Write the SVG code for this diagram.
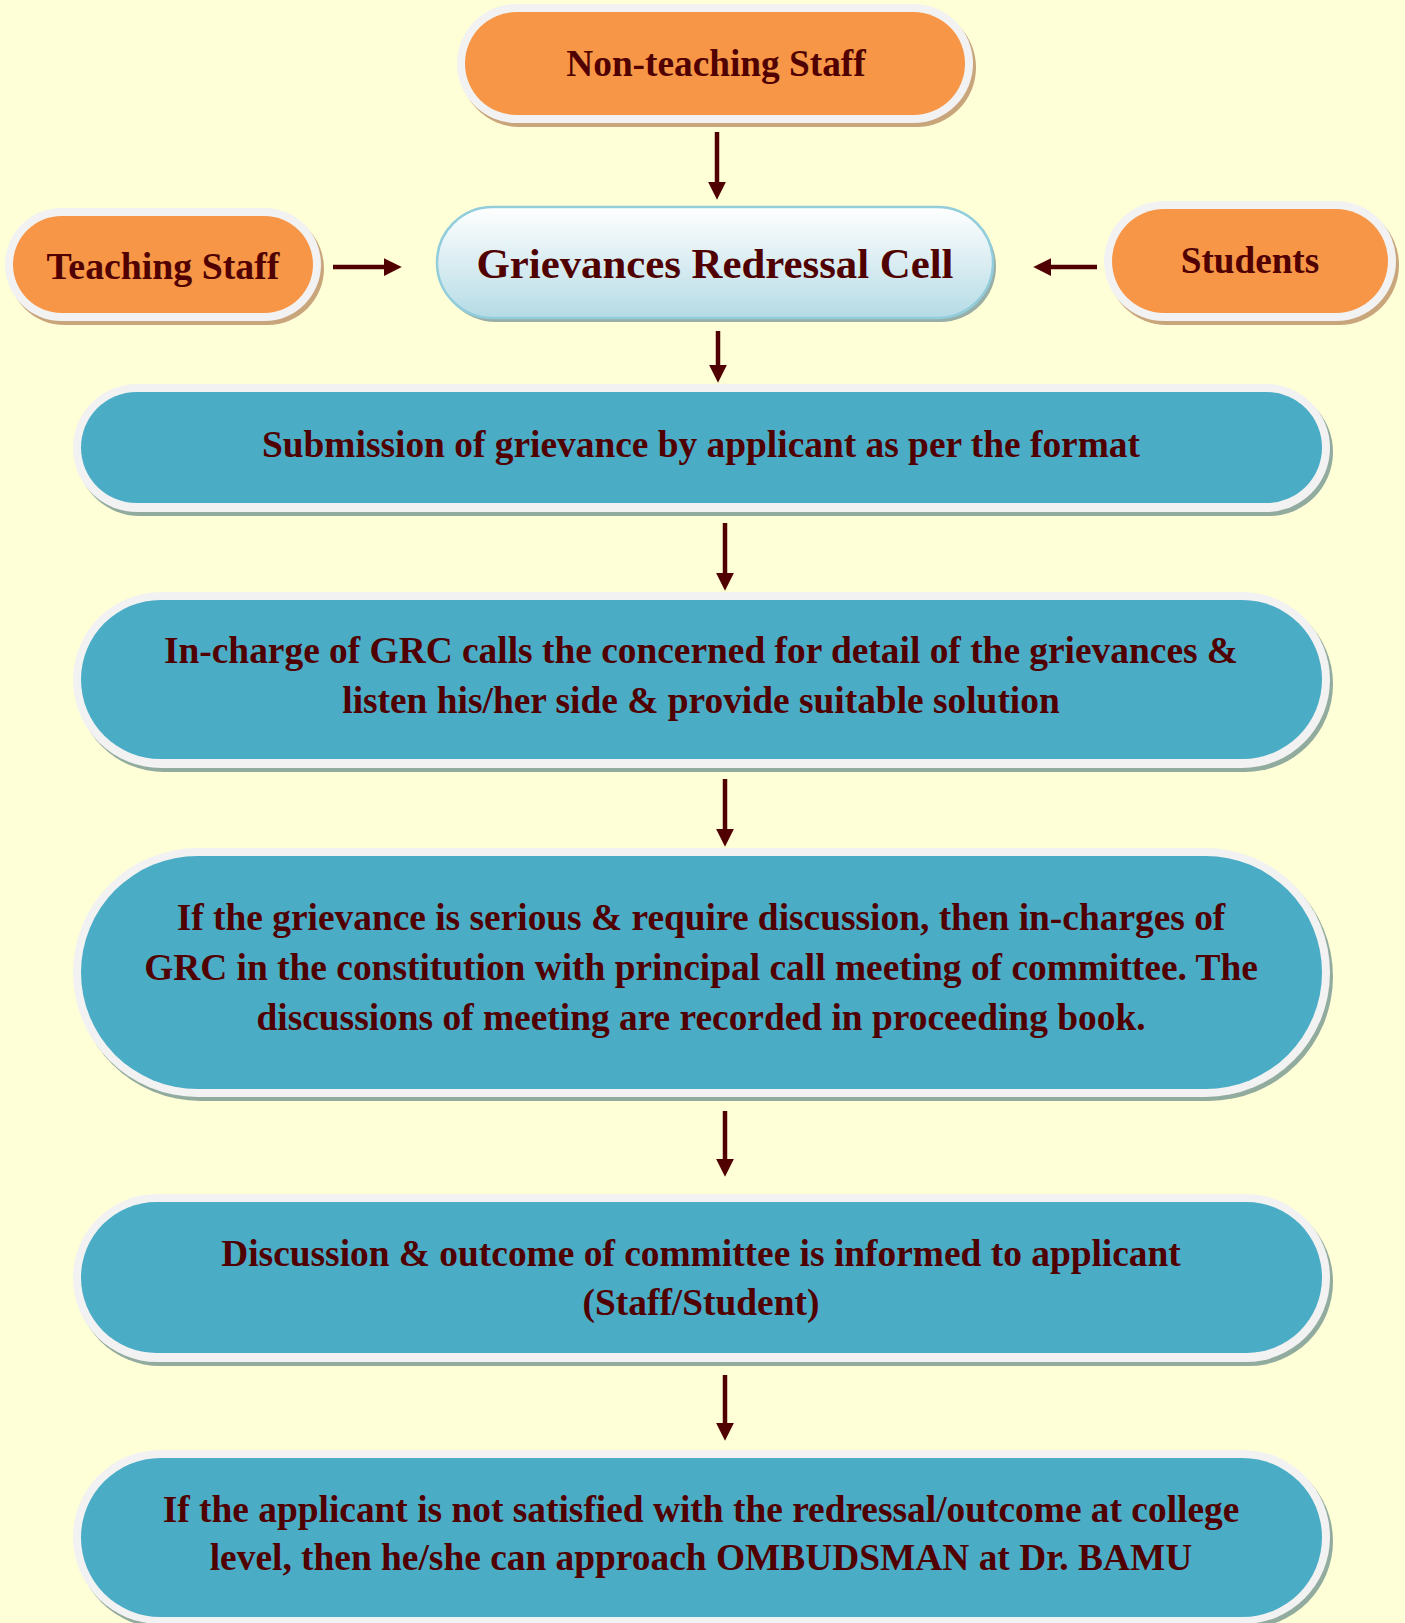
<svg xmlns="http://www.w3.org/2000/svg" width="1405" height="1623" viewBox="0 0 1405 1623">
<style>
.t{font-family:"Liberation Serif","Times New Roman",serif;font-weight:bold;fill:#500000;text-anchor:middle}
.ow{fill:#f2f2f2}
.or{fill:#f79646}
.bl{fill:#4bacc6}
.sho{fill:#c9a57c}
.shb{fill:#92ab9f}
.ln{stroke:#500000;stroke-width:4.5;fill:none}
</style>
<defs>
<linearGradient id="gg" x1="0" y1="0" x2="0" y2="1">
<stop offset="0" stop-color="#ffffff"/>
<stop offset="1" stop-color="#b5dbe5"/>
</linearGradient>
<marker id="ah" markerWidth="4" markerHeight="4" refX="0.5" refY="2" orient="auto" markerUnits="strokeWidth" viewBox="0 0 4 4">
<path d="M0,0 L4,2 L0,4 Z" fill="#500000"/>
</marker>
</defs>
<rect width="1405" height="1623" fill="#ffffd7"/>

<g id="non-teaching">
<rect class="sho" x="460" y="8" width="516" height="119" rx="59.5"/>
<rect class="ow" x="457" y="4" width="516" height="119" rx="59.5"/>
<rect class="or" x="465" y="12" width="500" height="103" rx="51.5"/>
<text class="t" x="716" y="76" font-size="37.3">Non-teaching Staff</text>
</g>

<g id="teaching">
<rect class="sho" x="8" y="212" width="316" height="113" rx="56.5"/>
<rect class="ow" x="5" y="208" width="316" height="113" rx="56.5"/>
<rect class="or" x="13" y="216" width="300" height="97" rx="48.5"/>
<text class="t" x="163" y="279" font-size="37.8">Teaching Staff</text>
</g>

<g id="students">
<rect class="sho" x="1107" y="205" width="292" height="120" rx="60"/>
<rect class="ow" x="1104" y="201" width="292" height="120" rx="60"/>
<rect class="or" x="1112" y="209" width="276" height="104" rx="52"/>
<text class="t" x="1250" y="273" font-size="37.2">Students</text>
</g>

<g id="grc">
<rect x="440" y="211" width="556" height="111" rx="55.5" fill="#98aea6"/>
<rect x="437" y="207" width="556" height="111" rx="55.5" fill="url(#gg)" stroke="#92cddc" stroke-width="2.5"/>
<text class="t" x="715" y="278" font-size="42.8">Grievances Redressal Cell</text>
</g>

<g id="submission">
<rect class="shb" x="76" y="388" width="1257" height="128" rx="64"/>
<rect class="ow" x="73" y="384" width="1257" height="128" rx="64"/>
<rect class="bl" x="81" y="392" width="1241" height="111" rx="55.5"/>
<text class="t" x="701" y="457" font-size="37.4">Submission of grievance by applicant as per the format</text>
</g>

<g id="incharge">
<rect class="shb" x="76" y="596" width="1257" height="176" rx="88"/>
<rect class="ow" x="73" y="592" width="1257" height="176" rx="88"/>
<rect class="bl" x="81" y="600" width="1241" height="159" rx="79.5"/>
<text class="t" x="701" y="663" font-size="37.4">In-charge of GRC calls the concerned for detail of the grievances &amp;</text>
<text class="t" x="701" y="713" font-size="37.4">listen his/her side &amp; provide suitable solution</text>
</g>

<g id="serious">
<rect class="shb" x="76" y="852" width="1257" height="249" rx="124.5"/>
<rect class="ow" x="73" y="848" width="1257" height="249" rx="124.5"/>
<rect class="bl" x="81" y="856" width="1241" height="233" rx="116.5"/>
<text class="t" x="701" y="930" font-size="37.4">If the grievance is serious &amp; require discussion, then in-charges of</text>
<text class="t" x="701" y="980" font-size="37.4">GRC in the constitution with principal call meeting of committee. The</text>
<text class="t" x="701" y="1030" font-size="37.4">discussions of meeting are recorded in proceeding book.</text>
</g>

<g id="outcome">
<rect class="shb" x="76" y="1198" width="1257" height="168" rx="84"/>
<rect class="ow" x="73" y="1194" width="1257" height="168" rx="84"/>
<rect class="bl" x="81" y="1202" width="1241" height="151" rx="75.5"/>
<text class="t" x="701" y="1266" font-size="37.4">Discussion &amp; outcome of committee is informed to applicant</text>
<text class="t" x="701" y="1315" font-size="37.4">(Staff/Student)</text>
</g>

<g id="ombudsman">
<rect class="shb" x="76" y="1454" width="1257" height="174" rx="87"/>
<rect class="ow" x="73" y="1450" width="1257" height="174" rx="87"/>
<rect class="bl" x="81" y="1458" width="1241" height="159" rx="79.5"/>
<text class="t" x="701" y="1522" font-size="37.4">If the applicant is not satisfied with the redressal/outcome at college</text>
<text class="t" x="701" y="1570" font-size="37.4">level, then he/she can approach OMBUDSMAN at Dr. BAMU</text>
</g>

<g id="connectors">
<line class="ln" x1="717" y1="132" x2="717" y2="184" marker-end="url(#ah)"/>
<line class="ln" x1="333" y1="267" x2="386" y2="267" marker-end="url(#ah)"/>
<line class="ln" x1="1097" y1="267" x2="1049" y2="267" marker-end="url(#ah)"/>
<line class="ln" x1="718" y1="331" x2="718" y2="367" marker-end="url(#ah)"/>
<line class="ln" x1="725" y1="523" x2="725" y2="575" marker-end="url(#ah)"/>
<line class="ln" x1="725" y1="779" x2="725" y2="831" marker-end="url(#ah)"/>
<line class="ln" x1="725" y1="1111" x2="725" y2="1161" marker-end="url(#ah)"/>
<line class="ln" x1="725" y1="1375" x2="725" y2="1425" marker-end="url(#ah)"/>
</g>
</svg>
